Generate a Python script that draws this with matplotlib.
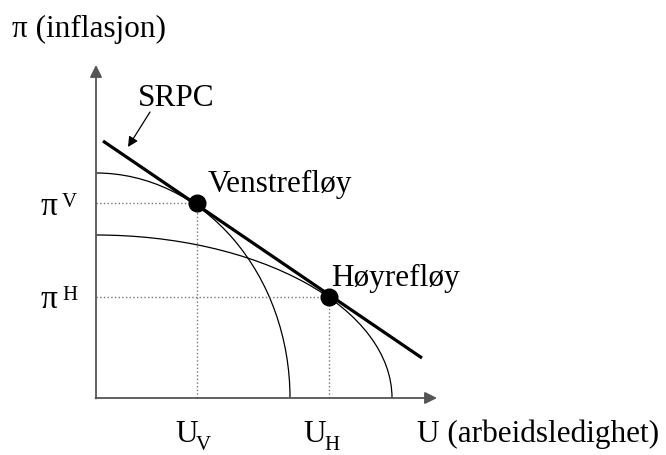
import matplotlib.pyplot as plt
from matplotlib.patches import Arc

plt.rcParams['font.family'] = ['Liberation Serif', 'DejaVu Serif']

# equilibrium points (U, pi)
U_V, pi_V = 10.1, 19.5
U_H, pi_H = 23.3, 10.1
# indifference curves: (U-intercept, pi-intercept)
curve_V = (19.4, 22.5)
curve_H = (29.6, 16.3)
# SRPC end points
srpc_U = [0.7, 32.6]
srpc_pi = [25.7, 4.0]
# axis lengths
U_max, pi_max = 34.1, 33.3

fig = plt.figure(figsize=(6.66, 4.55), dpi=100)
ax = fig.add_axes([0, 0, 1, 1])
ax.set_xlim(-9.6, 57.0)
ax.set_ylim(-5.7, 39.8)
ax.axis('off')

axcol = '#555555'
ax.annotate('', xy=(U_max, 0), xytext=(-0.05, 0),
            arrowprops=dict(arrowstyle='-|>', color=axcol, lw=1.3, mutation_scale=18, shrinkA=0, shrinkB=0))
ax.annotate('', xy=(0, pi_max), xytext=(0, -0.05),
            arrowprops=dict(arrowstyle='-|>', color=axcol, lw=1.3, mutation_scale=18, shrinkA=0, shrinkB=0))

# indifference curves
for a, b in [curve_V, curve_H]:
    ax.add_patch(Arc((0, 0), 2 * a, 2 * b, theta1=0, theta2=90, color='black', lw=0.9))

# dotted guides
for u, p in [(U_V, pi_V), (U_H, pi_H)]:
    ax.plot([0, u], [p, p], ls=':', color='#777777', lw=1)
    ax.plot([u, u], [0, p], ls=':', color='#777777', lw=1)

# SRPC line and points
ax.plot(srpc_U, srpc_pi, color='black', lw=2.3, solid_capstyle='butt')
ax.plot([U_V, U_H], [pi_V, pi_H], 'o', color='black', ms=12)

fs = 22.5
fs_small = 15
ax.text(-8.4, 36.1, 'π (inflasjon)', fontsize=fs, va='baseline')
ax.text(32.1, -4.4, 'U (arbeidsledighet)', fontsize=fs, va='baseline')
ax.text(4.2, 29.2, 'SRPC', fontsize=fs, va='baseline')
ax.annotate('', xy=(3.2, 25.1), xytext=(5.4, 28.6),
            arrowprops=dict(arrowstyle='-|>', color='black', lw=0.9, mutation_scale=15, shrinkA=0, shrinkB=0))
ax.text(11.2, 20.6, 'Venstrefløy', fontsize=fs, va='baseline')
ax.text(23.5, 11.2, 'Høyrefløy', fontsize=fs, va='baseline')

# tick labels with super/subscripts
ax.text(-5.5, pi_V - 1.2, 'π', fontsize=fs + 1.5, va='baseline')
ax.text(-3.4, pi_V - 0.4, 'V', fontsize=fs_small, va='baseline')
ax.text(-5.5, pi_H - 1.1, 'π', fontsize=fs + 1.5, va='baseline')
ax.text(-3.4, pi_H - 0.3, 'H', fontsize=fs_small, va='baseline')
ax.text(U_V - 2.2, -4.4, 'U', fontsize=fs, va='baseline')
ax.text(U_V - 0.1, -5.2, 'V', fontsize=fs_small, va='baseline')
ax.text(U_H - 2.6, -4.4, 'U', fontsize=fs, va='baseline')
ax.text(U_H - 0.5, -5.2, 'H', fontsize=fs_small, va='baseline')

fig.savefig('out.png', dpi=100)
